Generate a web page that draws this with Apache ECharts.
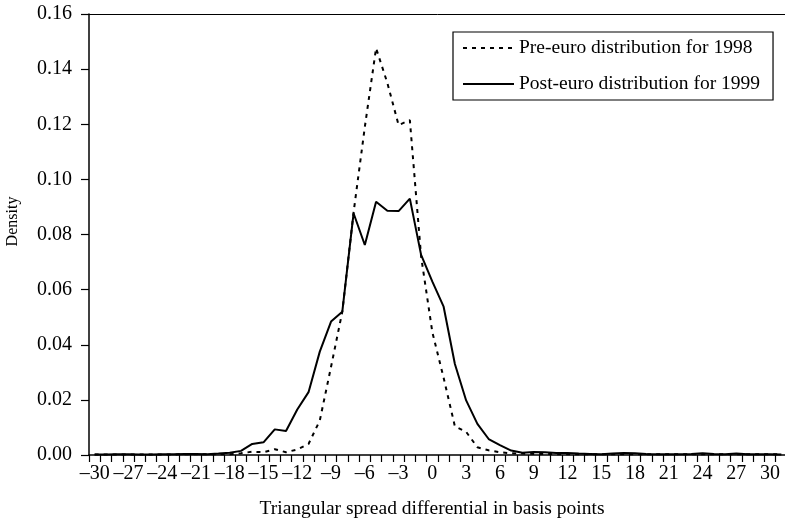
<!DOCTYPE html>
<html>
<head>
<meta charset="utf-8">
<script src="https://cdn.jsdelivr.net/npm/echarts@6/dist/echarts.min.js"></script>
<style>
    html, body {margin: 0; padding: 0; background: #ffffff;}
    #chartBox {width: 785px; height: 522px;}
</style>
</head>
<body>
<div id="chartBox"></div>
<script>
// spread differential, basis points (one category per integer)
let categories = [
    '-30', '-29', '-28', '-27', '-26', '-25', '-24', '-23', '-22', '-21',
    '-20', '-19', '-18', '-17', '-16', '-15', '-14', '-13', '-12', '-11',
    '-10', '-9', '-8', '-7', '-6', '-5', '-4', '-3', '-2', '-1',
    '0', '1', '2', '3', '4', '5', '6', '7', '8', '9',
    '10', '11', '12', '13', '14', '15', '16', '17', '18', '19',
    '20', '21', '22', '23', '24', '25', '26', '27', '28', '29',
    '30', '31'
];

// Pre-euro distribution for 1998
let pre1998 = [
    0.0002, 0.0002, 0.0002, 0.0002, 0.0002, 0.0002, 0.0002, 0.0002, 0.0003, 0.0003,
    0.0003, 0.0003, 0.0003, 0.0006, 0.0012, 0.0010, 0.0021, 0.0010, 0.0020, 0.0040,
    0.0125, 0.0320, 0.0520, 0.0880, 0.1190, 0.1476, 0.1350, 0.1197, 0.1215, 0.0720,
    0.0445, 0.0280, 0.0104, 0.0084, 0.0028, 0.0017, 0.0010, 0.0006, 0.0005, 0.0004,
    0.0004, 0.0003, 0.0003, 0.0003, 0.0003, 0.0003, 0.0003, 0.0003, 0.0003, 0.0003,
    0.0003, 0.0003, 0.0003, 0.0003, 0.0003, 0.0003, 0.0003, 0.0003, 0.0003, 0.0003,
    0.0003, 0.0002
];

// Post-euro distribution for 1999
let post1999 = [
    0.0002, 0.0002, 0.0003, 0.0003, 0.0002, 0.0002, 0.0003, 0.0003, 0.0004, 0.0004,
    0.0003, 0.0005, 0.0008, 0.0015, 0.0040, 0.0046, 0.0093, 0.0087, 0.0165, 0.0228,
    0.0375, 0.0484, 0.0520, 0.0877, 0.0762, 0.0919, 0.0886, 0.0885, 0.0930, 0.0726,
    0.0629, 0.0538, 0.0330, 0.0198, 0.0113, 0.0058, 0.0036, 0.0016, 0.0008, 0.0011,
    0.0010, 0.0007, 0.0007, 0.0005, 0.0004, 0.0003, 0.0005, 0.0007, 0.0006, 0.0004,
    0.0003, 0.0003, 0.0003, 0.0004, 0.0006, 0.0004, 0.0003, 0.0005, 0.0003, 0.0003,
    0.0003, 0.0002
];

let fontFamily = '"Liberation Serif", "Times New Roman", serif';

let chartBox = echarts.init(document.getElementById('chartBox'));
let chartBoxOption = {
    animation: false,
    backgroundColor: '#ffffff',
    textStyle: {fontFamily: fontFamily, color: '#000000'},
    // plot runs a little past the right edge of the picture, like the original
    grid: {left: 89, right: -2, top: 14, bottom: 67, outerBoundsMode: 'none', containLabel: false},
    legend: {
        orient: 'vertical', left: 453, top: 32,
        padding: [6, 13, 6, 9], itemGap: 16,
        itemWidth: 51, itemHeight: 14,
        borderColor: '#000000', borderWidth: 1.2,
        backgroundColor: '#ffffff',
        // hide the marker ECharts puts in the middle of a line icon
        itemStyle: {color: 'rgba(0,0,0,0)', borderWidth: 0, opacity: 0},
        textStyle: {fontFamily: fontFamily, fontSize: 19.5, color: '#000000'},
        data: ['Pre-euro distribution for 1998', 'Post-euro distribution for 1999']
    },
    xAxis: [{
        type: 'category', boundaryGap: true,
        name: 'Triangular spread differential in basis points',
        nameLocation: 'middle', nameGap: 44,
        nameTextStyle: {fontFamily: fontFamily, fontSize: 19.5, color: '#000000', padding: [0, 12, 0, 0]},
        axisLine: {show: true, lineStyle: {color: '#000000', width: 1.5}},
        axisTick: {show: true, interval: 0, alignWithLabel: false, length: 7, lineStyle: {color: '#000000', width: 1.2}},
        axisLabel: {
            interval: 2, margin: 9, fontSize: 20, color: '#000000', fontFamily: fontFamily,
            formatter: function (v) {
                return v.replace('-', '\u2013');
            }
        },
        splitLine: {show: false},
        data: categories
    }, {
        // top frame line only
        type: 'category', position: 'top', boundaryGap: true,
        axisLine: {show: true, lineStyle: {color: '#000000', width: 1}},
        axisTick: {show: false}, axisLabel: {show: false}, splitLine: {show: false},
        data: categories
    }],
    yAxis: [{
        type: 'value', min: 0, max: 0.16, interval: 0.02,
        name: 'Density', nameLocation: 'middle', nameGap: 68, nameRotate: 90,
        nameTextStyle: {fontFamily: fontFamily, fontSize: 16, color: '#000000', padding: [0, 0, 0, 26]},
        axisLine: {show: true, lineStyle: {color: '#000000', width: 1.5}},
        axisTick: {show: true, length: 8, lineStyle: {color: '#000000', width: 1.2}},
        axisLabel: {
            margin: 17, fontSize: 20, color: '#000000', fontFamily: fontFamily,
            formatter: function (v) {
                return v.toFixed(2);
            }
        },
        splitLine: {show: false}
    }],
    series: [
        {
            type: 'line',
            name: 'Pre-euro distribution for 1998',
            symbol: 'none',
            lineStyle: {color: '#000000', width: 2, type: [4, 5]},
            itemStyle: {color: '#000000'},
            data: pre1998
        },
        {
            type: 'line',
            name: 'Post-euro distribution for 1999',
            symbol: 'none',
            lineStyle: {color: '#000000', width: 2, type: 'solid'},
            itemStyle: {color: '#000000'},
            data: post1999
        }
    ]
};
chartBox.setOption(chartBoxOption, true);
</script>
</body>
</html>
